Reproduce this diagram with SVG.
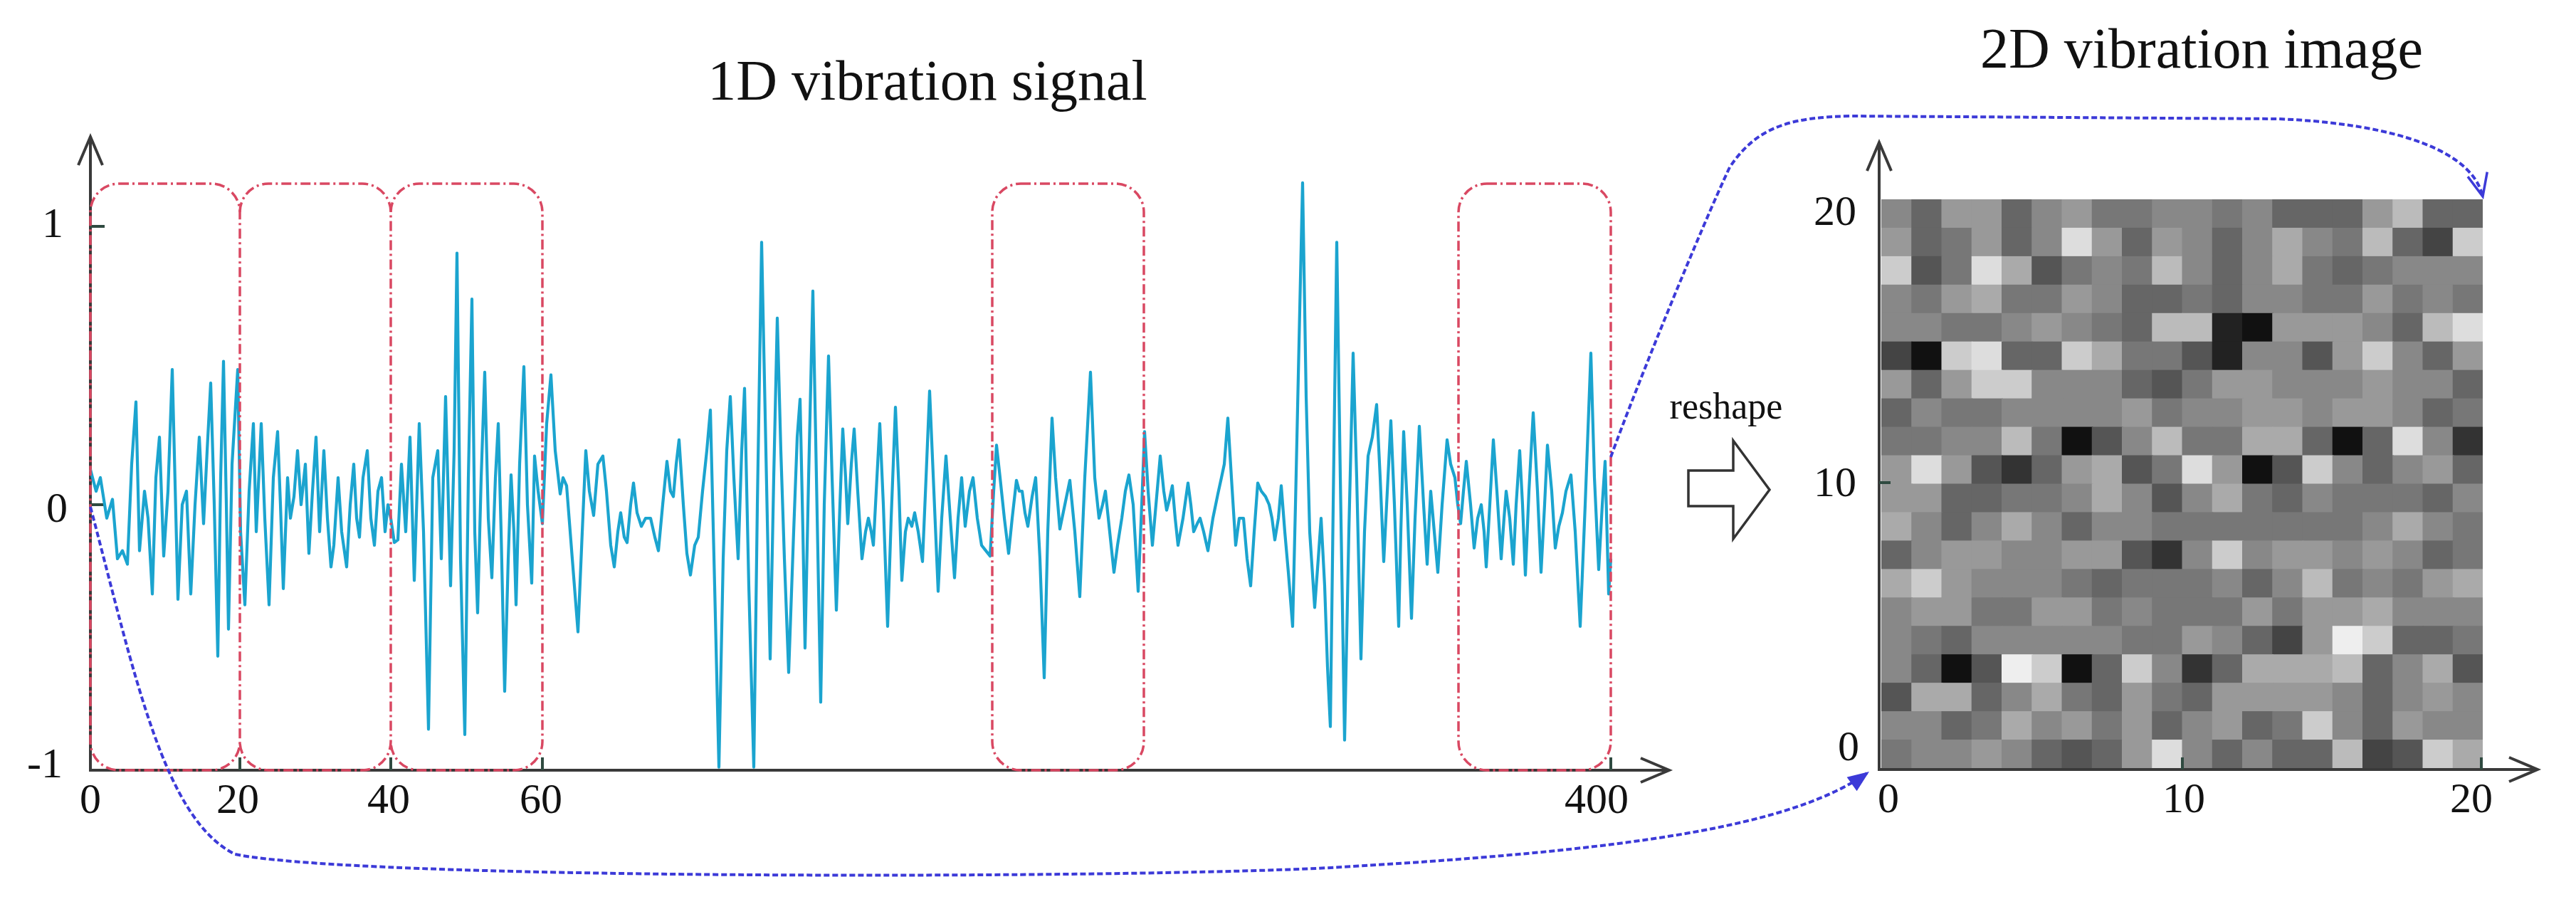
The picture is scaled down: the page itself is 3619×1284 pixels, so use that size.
<svg xmlns="http://www.w3.org/2000/svg" width="3619" height="1284" viewBox="0 0 3619 1284">
<style>
text{font-family:"Liberation Serif","Times New Roman",serif;fill:#111}
.title{font-size:80px}
.lbl{font-size:60px;text-anchor:middle}
.axis{stroke:#3a3a3a;stroke-width:4;fill:none}
.tick{stroke:#2f4a40;stroke-width:4}
.win{fill:none;stroke:#d94862;stroke-width:3.5;stroke-dasharray:14 5 3 5}
.link{fill:none;stroke:#3c3ad8;stroke-width:4;stroke-dasharray:8 4}
.wave{fill:none;stroke:#1ba4cf;stroke-width:4.2;stroke-linejoin:round}
</style>
<defs>
<marker id="axArrow" markerUnits="userSpaceOnUse" viewBox="-44 -22 48 44" markerWidth="48" markerHeight="44" refX="0" refY="0" orient="auto" overflow="visible">
<path d="M-40,-17 L0,0 L-40,17" fill="none" stroke="#3a3a3a" stroke-width="4"/>
</marker>
<marker id="blueOpen" markerUnits="userSpaceOnUse" viewBox="-36 -18 40 36" markerWidth="40" markerHeight="36" refX="0" refY="0" orient="auto" overflow="visible">
<path d="M-32,-14 L0,0 L-32,14" fill="none" stroke="#3c3ad8" stroke-width="3.5"/>
</marker>
<marker id="blueFill" markerUnits="userSpaceOnUse" viewBox="-36 -18 40 36" markerWidth="40" markerHeight="36" refX="0" refY="0" orient="auto" overflow="visible">
<path d="M-30,-12 L0,0 L-30,12 Z" fill="#3c3ad8" stroke="none"/>
</marker>
</defs>
<rect width="3619" height="1284" fill="#fff"/>

<g id="title-1d"><text class="title" x="1303" y="140" text-anchor="middle">1D vibration signal</text></g>
<g id="title-2d"><text class="title" x="2782" y="95">2D vibration image</text></g>

<g id="signal-plot">
<line class="axis" x1="127" y1="1082" x2="127" y2="192" marker-end="url(#axArrow)"/>
<line class="axis" x1="125" y1="1082" x2="2345" y2="1082" marker-end="url(#axArrow)"/>
<line class="tick" x1="127" y1="318" x2="147" y2="318"/>
<line class="tick" x1="127" y1="709" x2="147" y2="709"/>
<line class="tick" x1="337" y1="1082" x2="337" y2="1064"/>
<line class="tick" x1="549" y1="1082" x2="549" y2="1064"/>
<line class="tick" x1="762" y1="1082" x2="762" y2="1064"/>
<line class="tick" x1="2263" y1="1082" x2="2263" y2="1064"/>
<text class="lbl" x="74" y="333">1</text>
<text class="lbl" x="80" y="733">0</text>
<text class="lbl" x="63" y="1092">-1</text>
<text class="lbl" x="127" y="1142">0</text>
<text class="lbl" x="334" y="1142">20</text>
<text class="lbl" x="546" y="1142">40</text>
<text class="lbl" x="760" y="1142">60</text>
<text class="lbl" x="2243" y="1142">400</text>
<polyline class="wave" vector-effect="non-scaling-stroke" transform="matrix(1,0,0,-3.8,0,709)" points="127,13 135,5 141,10 150,-5 158,2 165,-20 172,-17 179,-22 185,15 191,38 196,-17 203,5 208,-5 214,-33 219,10 224,25 230,-19 236,5 242,50 250,-35 256,0 262,5 268,-33 274,0 280,25 286,-7 291,20 296,45 301,0 306,-56 310,10 314,53 318,0 321,-46 326,15 334,50 338,-10 344,-37 350,5 356,30 360,-10 367,30 372,-5 378,-37 384,10 390,27 394,0 398,-31 404,10 408,-5 413,3 418,20 423,0 429,15 434,-18 439,5 444,25 449,-10 455,20 460,-5 465,-23 469,-15 475,10 480,-10 487,-23 492,0 497,15 501,-5 505,-12 510,10 516,20 521,-5 526,-15 531,5 536,10 541,-10 545,0 549,-5 554,-14 559,-13 564,15 570,-10 576,25 582,-28 589,30 595,-10 602,-83 608,10 615,20 620,-20 626,40 633,-30 638,20 642,93 647,-20 653,-85 658,10 663,76 667,-10 671,-40 676,10 681,49 686,-5 691,-27 696,10 700,30 704,-10 709,-69 714,-20 718,11 722,-10 725,-37 730,15 736,51 741,0 747,-29 751,18 756,5 762,-7 768,30 774,48 780,20 787,4 791,10 796,7 804,-20 812,-47 818,-10 823,20 828,5 834,-4 840,15 847,18 852,5 858,-15 863,-23 868,-10 872,-3 877,-12 881,-14 886,0 890,8 895,-3 901,-8 907,-5 914,-5 920,-12 925,-17 931,0 937,16 942,5 946,3 950,15 954,24 960,0 965,-18 970,-26 976,-15 981,-12 987,5 993,20 998,35 1004,-30 1010,-97 1016,-20 1021,20 1026,40 1031,10 1037,-20 1042,20 1046,43 1052,-30 1059,-97 1064,0 1070,97 1076,20 1082,-57 1087,10 1092,69 1097,20 1102,-20 1108,-62 1115,-10 1120,25 1124,39 1128,-10 1131,-53 1136,10 1142,79 1147,10 1153,-73 1158,0 1164,55 1169,10 1175,-39 1180,0 1184,28 1188,10 1191,-7 1196,15 1200,28 1205,5 1211,-20 1216,-10 1220,-5 1224,-10 1227,-15 1231,5 1236,30 1241,0 1247,-45 1252,-5 1258,36 1263,5 1267,-28 1272,-10 1276,-5 1281,-8 1285,-3 1290,-10 1296,-21 1301,10 1306,42 1312,5 1318,-32 1323,-5 1329,18 1335,-5 1341,-27 1346,-5 1351,10 1356,-8 1362,5 1367,10 1373,-5 1379,-15 1385,-17 1391,-19 1396,5 1400,22 1405,10 1411,-5 1417,-18 1422,-5 1428,9 1432,5 1436,5 1440,-3 1444,-8 1450,3 1455,10 1461,-20 1467,-64 1472,-10 1478,32 1483,10 1489,-9 1496,0 1503,9 1510,-10 1517,-34 1524,10 1532,49 1538,10 1544,-5 1549,0 1553,5 1559,-10 1565,-25 1570,-15 1576,-5 1581,5 1586,11 1592,0 1599,-32 1604,0 1608,27 1613,5 1619,-15 1624,0 1630,18 1635,5 1639,-2 1643,2 1647,7 1651,-5 1655,-15 1662,-5 1669,8 1673,0 1677,-10 1682,-7 1686,-5 1691,-10 1697,-17 1704,-5 1711,4 1716,10 1720,15 1725,32 1730,10 1736,-15 1741,-5 1747,-5 1752,-20 1757,-30 1762,-10 1767,8 1772,5 1778,3 1783,0 1787,-5 1791,-13 1796,-5 1800,7 1805,-10 1810,-25 1816,-45 1820,0 1825,60 1830,119 1835,40 1840,-10 1847,-38 1852,-20 1856,-5 1861,-30 1865,-60 1869,-82 1873,0 1878,97 1883,10 1889,-87 1895,-10 1901,56 1906,10 1912,-57 1917,-10 1922,18 1928,25 1934,37 1939,10 1944,-21 1949,5 1954,31 1959,0 1965,-45 1968,-10 1972,27 1977,0 1983,-42 1988,-5 1994,29 2000,0 2005,-22 2008,-5 2010,5 2015,-10 2020,-25 2026,0 2033,24 2038,15 2044,10 2048,0 2052,-7 2056,5 2060,16 2066,0 2071,-16 2076,-5 2081,0 2085,-10 2088,-23 2093,0 2098,24 2103,5 2109,-20 2113,-5 2116,5 2121,-5 2126,-22 2130,0 2135,20 2139,0 2143,-26 2148,5 2154,34 2160,5 2165,-25 2170,0 2174,22 2180,5 2185,-16 2190,-8 2195,-3 2200,5 2207,11 2213,-10 2220,-45 2227,0 2235,56 2240,10 2246,-24 2251,0 2255,16 2260,-33 2263,-20"/>
<g id="windows">
<rect class="win" x="127" y="258" width="210" height="824" rx="40"/>
<path class="win" d="M337,298 A40,40 0 0 1 377,258 L509,258 A40,40 0 0 1 549,298 L549,1042 A40,40 0 0 1 509,1082 L377,1082 A40,40 0 0 1 337,1042"/>
<path class="win" d="M549,298 A40,40 0 0 1 589,258 L722,258 A40,40 0 0 1 762,298 L762,1042 A40,40 0 0 1 722,1082 L589,1082 A40,40 0 0 1 549,1042"/>
<rect class="win" x="1394" y="258" width="213" height="824" rx="40"/>
<rect class="win" x="2049" y="258" width="214" height="824" rx="40"/>
</g>
</g>

<g id="reshape">
<text x="2425" y="588" text-anchor="middle" style="font-size:52px">reshape</text>
<polygon points="2372,661 2435,661 2435,619 2486,688 2435,757 2435,711 2372,711" fill="#fff" stroke="#333" stroke-width="3.5" stroke-linejoin="miter"/>
</g>

<g id="image-plot">
<g id="pixels" transform="translate(2643,280) scale(42.25,39.95)">
<rect x="0" y="0" width="1.04" height="1.04" fill="#888"/><rect x="1" y="0" width="1.04" height="1.04" fill="#666"/><rect x="2" y="0" width="1.04" height="1.04" fill="#999"/><rect x="3" y="0" width="1.04" height="1.04" fill="#999"/><rect x="4" y="0" width="1.04" height="1.04" fill="#666"/><rect x="5" y="0" width="1.04" height="1.04" fill="#888"/><rect x="6" y="0" width="1.04" height="1.04" fill="#999"/><rect x="7" y="0" width="1.04" height="1.04" fill="#777"/><rect x="8" y="0" width="1.04" height="1.04" fill="#777"/><rect x="9" y="0" width="1.04" height="1.04" fill="#888"/><rect x="10" y="0" width="1.04" height="1.04" fill="#888"/><rect x="11" y="0" width="1.04" height="1.04" fill="#777"/><rect x="12" y="0" width="1.04" height="1.04" fill="#888"/><rect x="13" y="0" width="1.04" height="1.04" fill="#666"/><rect x="14" y="0" width="1.04" height="1.04" fill="#666"/><rect x="15" y="0" width="1.04" height="1.04" fill="#666"/><rect x="16" y="0" width="1.04" height="1.04" fill="#999"/><rect x="17" y="0" width="1.04" height="1.04" fill="#bbb"/><rect x="18" y="0" width="1.04" height="1.04" fill="#666"/><rect x="19" y="0" width="1" height="1.04" fill="#666"/>
<rect x="0" y="1" width="1.04" height="1.04" fill="#999"/><rect x="1" y="1" width="1.04" height="1.04" fill="#666"/><rect x="2" y="1" width="1.04" height="1.04" fill="#777"/><rect x="3" y="1" width="1.04" height="1.04" fill="#999"/><rect x="4" y="1" width="1.04" height="1.04" fill="#666"/><rect x="5" y="1" width="1.04" height="1.04" fill="#888"/><rect x="6" y="1" width="1.04" height="1.04" fill="#ddd"/><rect x="7" y="1" width="1.04" height="1.04" fill="#999"/><rect x="8" y="1" width="1.04" height="1.04" fill="#666"/><rect x="9" y="1" width="1.04" height="1.04" fill="#999"/><rect x="10" y="1" width="1.04" height="1.04" fill="#888"/><rect x="11" y="1" width="1.04" height="1.04" fill="#666"/><rect x="12" y="1" width="1.04" height="1.04" fill="#888"/><rect x="13" y="1" width="1.04" height="1.04" fill="#aaa"/><rect x="14" y="1" width="1.04" height="1.04" fill="#888"/><rect x="15" y="1" width="1.04" height="1.04" fill="#777"/><rect x="16" y="1" width="1.04" height="1.04" fill="#bbb"/><rect x="17" y="1" width="1.04" height="1.04" fill="#666"/><rect x="18" y="1" width="1.04" height="1.04" fill="#444"/><rect x="19" y="1" width="1" height="1.04" fill="#ccc"/>
<rect x="0" y="2" width="1.04" height="1.04" fill="#ccc"/><rect x="1" y="2" width="1.04" height="1.04" fill="#555"/><rect x="2" y="2" width="1.04" height="1.04" fill="#777"/><rect x="3" y="2" width="1.04" height="1.04" fill="#ddd"/><rect x="4" y="2" width="1.04" height="1.04" fill="#aaa"/><rect x="5" y="2" width="1.04" height="1.04" fill="#555"/><rect x="6" y="2" width="1.04" height="1.04" fill="#777"/><rect x="7" y="2" width="1.04" height="1.04" fill="#888"/><rect x="8" y="2" width="1.04" height="1.04" fill="#777"/><rect x="9" y="2" width="1.04" height="1.04" fill="#bbb"/><rect x="10" y="2" width="1.04" height="1.04" fill="#888"/><rect x="11" y="2" width="1.04" height="1.04" fill="#666"/><rect x="12" y="2" width="1.04" height="1.04" fill="#888"/><rect x="13" y="2" width="1.04" height="1.04" fill="#aaa"/><rect x="14" y="2" width="1.04" height="1.04" fill="#777"/><rect x="15" y="2" width="1.04" height="1.04" fill="#666"/><rect x="16" y="2" width="1.04" height="1.04" fill="#777"/><rect x="17" y="2" width="1.04" height="1.04" fill="#888"/><rect x="18" y="2" width="1.04" height="1.04" fill="#888"/><rect x="19" y="2" width="1" height="1.04" fill="#888"/>
<rect x="0" y="3" width="1.04" height="1.04" fill="#888"/><rect x="1" y="3" width="1.04" height="1.04" fill="#777"/><rect x="2" y="3" width="1.04" height="1.04" fill="#999"/><rect x="3" y="3" width="1.04" height="1.04" fill="#aaa"/><rect x="4" y="3" width="1.04" height="1.04" fill="#777"/><rect x="5" y="3" width="1.04" height="1.04" fill="#777"/><rect x="6" y="3" width="1.04" height="1.04" fill="#999"/><rect x="7" y="3" width="1.04" height="1.04" fill="#888"/><rect x="8" y="3" width="1.04" height="1.04" fill="#666"/><rect x="9" y="3" width="1.04" height="1.04" fill="#666"/><rect x="10" y="3" width="1.04" height="1.04" fill="#777"/><rect x="11" y="3" width="1.04" height="1.04" fill="#666"/><rect x="12" y="3" width="1.04" height="1.04" fill="#888"/><rect x="13" y="3" width="1.04" height="1.04" fill="#888"/><rect x="14" y="3" width="1.04" height="1.04" fill="#777"/><rect x="15" y="3" width="1.04" height="1.04" fill="#777"/><rect x="16" y="3" width="1.04" height="1.04" fill="#999"/><rect x="17" y="3" width="1.04" height="1.04" fill="#777"/><rect x="18" y="3" width="1.04" height="1.04" fill="#888"/><rect x="19" y="3" width="1" height="1.04" fill="#777"/>
<rect x="0" y="4" width="1.04" height="1.04" fill="#888"/><rect x="1" y="4" width="1.04" height="1.04" fill="#888"/><rect x="2" y="4" width="1.04" height="1.04" fill="#777"/><rect x="3" y="4" width="1.04" height="1.04" fill="#777"/><rect x="4" y="4" width="1.04" height="1.04" fill="#888"/><rect x="5" y="4" width="1.04" height="1.04" fill="#999"/><rect x="6" y="4" width="1.04" height="1.04" fill="#888"/><rect x="7" y="4" width="1.04" height="1.04" fill="#777"/><rect x="8" y="4" width="1.04" height="1.04" fill="#666"/><rect x="9" y="4" width="1.04" height="1.04" fill="#bbb"/><rect x="10" y="4" width="1.04" height="1.04" fill="#bbb"/><rect x="11" y="4" width="1.04" height="1.04" fill="#222"/><rect x="12" y="4" width="1.04" height="1.04" fill="#111"/><rect x="13" y="4" width="1.04" height="1.04" fill="#999"/><rect x="14" y="4" width="1.04" height="1.04" fill="#999"/><rect x="15" y="4" width="1.04" height="1.04" fill="#999"/><rect x="16" y="4" width="1.04" height="1.04" fill="#888"/><rect x="17" y="4" width="1.04" height="1.04" fill="#666"/><rect x="18" y="4" width="1.04" height="1.04" fill="#bbb"/><rect x="19" y="4" width="1" height="1.04" fill="#ddd"/>
<rect x="0" y="5" width="1.04" height="1.04" fill="#444"/><rect x="1" y="5" width="1.04" height="1.04" fill="#111"/><rect x="2" y="5" width="1.04" height="1.04" fill="#ccc"/><rect x="3" y="5" width="1.04" height="1.04" fill="#ddd"/><rect x="4" y="5" width="1.04" height="1.04" fill="#666"/><rect x="5" y="5" width="1.04" height="1.04" fill="#666"/><rect x="6" y="5" width="1.04" height="1.04" fill="#ccc"/><rect x="7" y="5" width="1.04" height="1.04" fill="#aaa"/><rect x="8" y="5" width="1.04" height="1.04" fill="#777"/><rect x="9" y="5" width="1.04" height="1.04" fill="#777"/><rect x="10" y="5" width="1.04" height="1.04" fill="#555"/><rect x="11" y="5" width="1.04" height="1.04" fill="#222"/><rect x="12" y="5" width="1.04" height="1.04" fill="#888"/><rect x="13" y="5" width="1.04" height="1.04" fill="#888"/><rect x="14" y="5" width="1.04" height="1.04" fill="#555"/><rect x="15" y="5" width="1.04" height="1.04" fill="#999"/><rect x="16" y="5" width="1.04" height="1.04" fill="#ccc"/><rect x="17" y="5" width="1.04" height="1.04" fill="#888"/><rect x="18" y="5" width="1.04" height="1.04" fill="#666"/><rect x="19" y="5" width="1" height="1.04" fill="#999"/>
<rect x="0" y="6" width="1.04" height="1.04" fill="#999"/><rect x="1" y="6" width="1.04" height="1.04" fill="#666"/><rect x="2" y="6" width="1.04" height="1.04" fill="#999"/><rect x="3" y="6" width="1.04" height="1.04" fill="#ccc"/><rect x="4" y="6" width="1.04" height="1.04" fill="#ccc"/><rect x="5" y="6" width="1.04" height="1.04" fill="#888"/><rect x="6" y="6" width="1.04" height="1.04" fill="#888"/><rect x="7" y="6" width="1.04" height="1.04" fill="#888"/><rect x="8" y="6" width="1.04" height="1.04" fill="#666"/><rect x="9" y="6" width="1.04" height="1.04" fill="#555"/><rect x="10" y="6" width="1.04" height="1.04" fill="#777"/><rect x="11" y="6" width="1.04" height="1.04" fill="#999"/><rect x="12" y="6" width="1.04" height="1.04" fill="#999"/><rect x="13" y="6" width="1.04" height="1.04" fill="#888"/><rect x="14" y="6" width="1.04" height="1.04" fill="#888"/><rect x="15" y="6" width="1.04" height="1.04" fill="#888"/><rect x="16" y="6" width="1.04" height="1.04" fill="#999"/><rect x="17" y="6" width="1.04" height="1.04" fill="#888"/><rect x="18" y="6" width="1.04" height="1.04" fill="#888"/><rect x="19" y="6" width="1" height="1.04" fill="#666"/>
<rect x="0" y="7" width="1.04" height="1.04" fill="#666"/><rect x="1" y="7" width="1.04" height="1.04" fill="#888"/><rect x="2" y="7" width="1.04" height="1.04" fill="#777"/><rect x="3" y="7" width="1.04" height="1.04" fill="#777"/><rect x="4" y="7" width="1.04" height="1.04" fill="#888"/><rect x="5" y="7" width="1.04" height="1.04" fill="#888"/><rect x="6" y="7" width="1.04" height="1.04" fill="#888"/><rect x="7" y="7" width="1.04" height="1.04" fill="#888"/><rect x="8" y="7" width="1.04" height="1.04" fill="#999"/><rect x="9" y="7" width="1.04" height="1.04" fill="#777"/><rect x="10" y="7" width="1.04" height="1.04" fill="#888"/><rect x="11" y="7" width="1.04" height="1.04" fill="#888"/><rect x="12" y="7" width="1.04" height="1.04" fill="#999"/><rect x="13" y="7" width="1.04" height="1.04" fill="#999"/><rect x="14" y="7" width="1.04" height="1.04" fill="#888"/><rect x="15" y="7" width="1.04" height="1.04" fill="#999"/><rect x="16" y="7" width="1.04" height="1.04" fill="#999"/><rect x="17" y="7" width="1.04" height="1.04" fill="#888"/><rect x="18" y="7" width="1.04" height="1.04" fill="#666"/><rect x="19" y="7" width="1" height="1.04" fill="#777"/>
<rect x="0" y="8" width="1.04" height="1.04" fill="#777"/><rect x="1" y="8" width="1.04" height="1.04" fill="#777"/><rect x="2" y="8" width="1.04" height="1.04" fill="#888"/><rect x="3" y="8" width="1.04" height="1.04" fill="#888"/><rect x="4" y="8" width="1.04" height="1.04" fill="#bbb"/><rect x="5" y="8" width="1.04" height="1.04" fill="#777"/><rect x="6" y="8" width="1.04" height="1.04" fill="#111"/><rect x="7" y="8" width="1.04" height="1.04" fill="#555"/><rect x="8" y="8" width="1.04" height="1.04" fill="#888"/><rect x="9" y="8" width="1.04" height="1.04" fill="#bbb"/><rect x="10" y="8" width="1.04" height="1.04" fill="#777"/><rect x="11" y="8" width="1.04" height="1.04" fill="#777"/><rect x="12" y="8" width="1.04" height="1.04" fill="#aaa"/><rect x="13" y="8" width="1.04" height="1.04" fill="#aaa"/><rect x="14" y="8" width="1.04" height="1.04" fill="#666"/><rect x="15" y="8" width="1.04" height="1.04" fill="#111"/><rect x="16" y="8" width="1.04" height="1.04" fill="#666"/><rect x="17" y="8" width="1.04" height="1.04" fill="#ddd"/><rect x="18" y="8" width="1.04" height="1.04" fill="#888"/><rect x="19" y="8" width="1" height="1.04" fill="#333"/>
<rect x="0" y="9" width="1.04" height="1.04" fill="#999"/><rect x="1" y="9" width="1.04" height="1.04" fill="#ddd"/><rect x="2" y="9" width="1.04" height="1.04" fill="#999"/><rect x="3" y="9" width="1.04" height="1.04" fill="#555"/><rect x="4" y="9" width="1.04" height="1.04" fill="#333"/><rect x="5" y="9" width="1.04" height="1.04" fill="#666"/><rect x="6" y="9" width="1.04" height="1.04" fill="#999"/><rect x="7" y="9" width="1.04" height="1.04" fill="#aaa"/><rect x="8" y="9" width="1.04" height="1.04" fill="#555"/><rect x="9" y="9" width="1.04" height="1.04" fill="#777"/><rect x="10" y="9" width="1.04" height="1.04" fill="#ddd"/><rect x="11" y="9" width="1.04" height="1.04" fill="#999"/><rect x="12" y="9" width="1.04" height="1.04" fill="#111"/><rect x="13" y="9" width="1.04" height="1.04" fill="#555"/><rect x="14" y="9" width="1.04" height="1.04" fill="#ccc"/><rect x="15" y="9" width="1.04" height="1.04" fill="#888"/><rect x="16" y="9" width="1.04" height="1.04" fill="#666"/><rect x="17" y="9" width="1.04" height="1.04" fill="#888"/><rect x="18" y="9" width="1.04" height="1.04" fill="#999"/><rect x="19" y="9" width="1" height="1.04" fill="#666"/>
<rect x="0" y="10" width="1.04" height="1.04" fill="#999"/><rect x="1" y="10" width="1.04" height="1.04" fill="#999"/><rect x="2" y="10" width="1.04" height="1.04" fill="#666"/><rect x="3" y="10" width="1.04" height="1.04" fill="#666"/><rect x="4" y="10" width="1.04" height="1.04" fill="#777"/><rect x="5" y="10" width="1.04" height="1.04" fill="#777"/><rect x="6" y="10" width="1.04" height="1.04" fill="#888"/><rect x="7" y="10" width="1.04" height="1.04" fill="#aaa"/><rect x="8" y="10" width="1.04" height="1.04" fill="#888"/><rect x="9" y="10" width="1.04" height="1.04" fill="#555"/><rect x="10" y="10" width="1.04" height="1.04" fill="#888"/><rect x="11" y="10" width="1.04" height="1.04" fill="#aaa"/><rect x="12" y="10" width="1.04" height="1.04" fill="#777"/><rect x="13" y="10" width="1.04" height="1.04" fill="#666"/><rect x="14" y="10" width="1.04" height="1.04" fill="#888"/><rect x="15" y="10" width="1.04" height="1.04" fill="#777"/><rect x="16" y="10" width="1.04" height="1.04" fill="#777"/><rect x="17" y="10" width="1.04" height="1.04" fill="#777"/><rect x="18" y="10" width="1.04" height="1.04" fill="#666"/><rect x="19" y="10" width="1" height="1.04" fill="#888"/>
<rect x="0" y="11" width="1.04" height="1.04" fill="#aaa"/><rect x="1" y="11" width="1.04" height="1.04" fill="#888"/><rect x="2" y="11" width="1.04" height="1.04" fill="#666"/><rect x="3" y="11" width="1.04" height="1.04" fill="#888"/><rect x="4" y="11" width="1.04" height="1.04" fill="#aaa"/><rect x="5" y="11" width="1.04" height="1.04" fill="#888"/><rect x="6" y="11" width="1.04" height="1.04" fill="#666"/><rect x="7" y="11" width="1.04" height="1.04" fill="#888"/><rect x="8" y="11" width="1.04" height="1.04" fill="#888"/><rect x="9" y="11" width="1.04" height="1.04" fill="#777"/><rect x="10" y="11" width="1.04" height="1.04" fill="#777"/><rect x="11" y="11" width="1.04" height="1.04" fill="#777"/><rect x="12" y="11" width="1.04" height="1.04" fill="#777"/><rect x="13" y="11" width="1.04" height="1.04" fill="#777"/><rect x="14" y="11" width="1.04" height="1.04" fill="#777"/><rect x="15" y="11" width="1.04" height="1.04" fill="#777"/><rect x="16" y="11" width="1.04" height="1.04" fill="#888"/><rect x="17" y="11" width="1.04" height="1.04" fill="#aaa"/><rect x="18" y="11" width="1.04" height="1.04" fill="#888"/><rect x="19" y="11" width="1" height="1.04" fill="#777"/>
<rect x="0" y="12" width="1.04" height="1.04" fill="#666"/><rect x="1" y="12" width="1.04" height="1.04" fill="#888"/><rect x="2" y="12" width="1.04" height="1.04" fill="#999"/><rect x="3" y="12" width="1.04" height="1.04" fill="#999"/><rect x="4" y="12" width="1.04" height="1.04" fill="#888"/><rect x="5" y="12" width="1.04" height="1.04" fill="#888"/><rect x="6" y="12" width="1.04" height="1.04" fill="#999"/><rect x="7" y="12" width="1.04" height="1.04" fill="#999"/><rect x="8" y="12" width="1.04" height="1.04" fill="#555"/><rect x="9" y="12" width="1.04" height="1.04" fill="#333"/><rect x="10" y="12" width="1.04" height="1.04" fill="#888"/><rect x="11" y="12" width="1.04" height="1.04" fill="#ccc"/><rect x="12" y="12" width="1.04" height="1.04" fill="#888"/><rect x="13" y="12" width="1.04" height="1.04" fill="#999"/><rect x="14" y="12" width="1.04" height="1.04" fill="#999"/><rect x="15" y="12" width="1.04" height="1.04" fill="#888"/><rect x="16" y="12" width="1.04" height="1.04" fill="#999"/><rect x="17" y="12" width="1.04" height="1.04" fill="#888"/><rect x="18" y="12" width="1.04" height="1.04" fill="#666"/><rect x="19" y="12" width="1" height="1.04" fill="#777"/>
<rect x="0" y="13" width="1.04" height="1.04" fill="#aaa"/><rect x="1" y="13" width="1.04" height="1.04" fill="#ccc"/><rect x="2" y="13" width="1.04" height="1.04" fill="#999"/><rect x="3" y="13" width="1.04" height="1.04" fill="#888"/><rect x="4" y="13" width="1.04" height="1.04" fill="#888"/><rect x="5" y="13" width="1.04" height="1.04" fill="#888"/><rect x="6" y="13" width="1.04" height="1.04" fill="#777"/><rect x="7" y="13" width="1.04" height="1.04" fill="#666"/><rect x="8" y="13" width="1.04" height="1.04" fill="#777"/><rect x="9" y="13" width="1.04" height="1.04" fill="#777"/><rect x="10" y="13" width="1.04" height="1.04" fill="#777"/><rect x="11" y="13" width="1.04" height="1.04" fill="#888"/><rect x="12" y="13" width="1.04" height="1.04" fill="#666"/><rect x="13" y="13" width="1.04" height="1.04" fill="#888"/><rect x="14" y="13" width="1.04" height="1.04" fill="#bbb"/><rect x="15" y="13" width="1.04" height="1.04" fill="#777"/><rect x="16" y="13" width="1.04" height="1.04" fill="#888"/><rect x="17" y="13" width="1.04" height="1.04" fill="#777"/><rect x="18" y="13" width="1.04" height="1.04" fill="#999"/><rect x="19" y="13" width="1" height="1.04" fill="#aaa"/>
<rect x="0" y="14" width="1.04" height="1.04" fill="#888"/><rect x="1" y="14" width="1.04" height="1.04" fill="#999"/><rect x="2" y="14" width="1.04" height="1.04" fill="#999"/><rect x="3" y="14" width="1.04" height="1.04" fill="#777"/><rect x="4" y="14" width="1.04" height="1.04" fill="#777"/><rect x="5" y="14" width="1.04" height="1.04" fill="#999"/><rect x="6" y="14" width="1.04" height="1.04" fill="#999"/><rect x="7" y="14" width="1.04" height="1.04" fill="#777"/><rect x="8" y="14" width="1.04" height="1.04" fill="#888"/><rect x="9" y="14" width="1.04" height="1.04" fill="#777"/><rect x="10" y="14" width="1.04" height="1.04" fill="#777"/><rect x="11" y="14" width="1.04" height="1.04" fill="#777"/><rect x="12" y="14" width="1.04" height="1.04" fill="#999"/><rect x="13" y="14" width="1.04" height="1.04" fill="#777"/><rect x="14" y="14" width="1.04" height="1.04" fill="#999"/><rect x="15" y="14" width="1.04" height="1.04" fill="#999"/><rect x="16" y="14" width="1.04" height="1.04" fill="#aaa"/><rect x="17" y="14" width="1.04" height="1.04" fill="#888"/><rect x="18" y="14" width="1.04" height="1.04" fill="#888"/><rect x="19" y="14" width="1" height="1.04" fill="#888"/>
<rect x="0" y="15" width="1.04" height="1.04" fill="#888"/><rect x="1" y="15" width="1.04" height="1.04" fill="#777"/><rect x="2" y="15" width="1.04" height="1.04" fill="#666"/><rect x="3" y="15" width="1.04" height="1.04" fill="#888"/><rect x="4" y="15" width="1.04" height="1.04" fill="#888"/><rect x="5" y="15" width="1.04" height="1.04" fill="#888"/><rect x="6" y="15" width="1.04" height="1.04" fill="#888"/><rect x="7" y="15" width="1.04" height="1.04" fill="#888"/><rect x="8" y="15" width="1.04" height="1.04" fill="#777"/><rect x="9" y="15" width="1.04" height="1.04" fill="#777"/><rect x="10" y="15" width="1.04" height="1.04" fill="#999"/><rect x="11" y="15" width="1.04" height="1.04" fill="#888"/><rect x="12" y="15" width="1.04" height="1.04" fill="#666"/><rect x="13" y="15" width="1.04" height="1.04" fill="#444"/><rect x="14" y="15" width="1.04" height="1.04" fill="#999"/><rect x="15" y="15" width="1.04" height="1.04" fill="#eee"/><rect x="16" y="15" width="1.04" height="1.04" fill="#ccc"/><rect x="17" y="15" width="1.04" height="1.04" fill="#666"/><rect x="18" y="15" width="1.04" height="1.04" fill="#666"/><rect x="19" y="15" width="1" height="1.04" fill="#777"/>
<rect x="0" y="16" width="1.04" height="1.04" fill="#888"/><rect x="1" y="16" width="1.04" height="1.04" fill="#666"/><rect x="2" y="16" width="1.04" height="1.04" fill="#111"/><rect x="3" y="16" width="1.04" height="1.04" fill="#555"/><rect x="4" y="16" width="1.04" height="1.04" fill="#eee"/><rect x="5" y="16" width="1.04" height="1.04" fill="#ccc"/><rect x="6" y="16" width="1.04" height="1.04" fill="#111"/><rect x="7" y="16" width="1.04" height="1.04" fill="#666"/><rect x="8" y="16" width="1.04" height="1.04" fill="#ccc"/><rect x="9" y="16" width="1.04" height="1.04" fill="#888"/><rect x="10" y="16" width="1.04" height="1.04" fill="#333"/><rect x="11" y="16" width="1.04" height="1.04" fill="#666"/><rect x="12" y="16" width="1.04" height="1.04" fill="#aaa"/><rect x="13" y="16" width="1.04" height="1.04" fill="#aaa"/><rect x="14" y="16" width="1.04" height="1.04" fill="#aaa"/><rect x="15" y="16" width="1.04" height="1.04" fill="#bbb"/><rect x="16" y="16" width="1.04" height="1.04" fill="#666"/><rect x="17" y="16" width="1.04" height="1.04" fill="#888"/><rect x="18" y="16" width="1.04" height="1.04" fill="#aaa"/><rect x="19" y="16" width="1" height="1.04" fill="#555"/>
<rect x="0" y="17" width="1.04" height="1.04" fill="#555"/><rect x="1" y="17" width="1.04" height="1.04" fill="#aaa"/><rect x="2" y="17" width="1.04" height="1.04" fill="#aaa"/><rect x="3" y="17" width="1.04" height="1.04" fill="#666"/><rect x="4" y="17" width="1.04" height="1.04" fill="#888"/><rect x="5" y="17" width="1.04" height="1.04" fill="#aaa"/><rect x="6" y="17" width="1.04" height="1.04" fill="#777"/><rect x="7" y="17" width="1.04" height="1.04" fill="#666"/><rect x="8" y="17" width="1.04" height="1.04" fill="#999"/><rect x="9" y="17" width="1.04" height="1.04" fill="#777"/><rect x="10" y="17" width="1.04" height="1.04" fill="#666"/><rect x="11" y="17" width="1.04" height="1.04" fill="#999"/><rect x="12" y="17" width="1.04" height="1.04" fill="#999"/><rect x="13" y="17" width="1.04" height="1.04" fill="#999"/><rect x="14" y="17" width="1.04" height="1.04" fill="#999"/><rect x="15" y="17" width="1.04" height="1.04" fill="#888"/><rect x="16" y="17" width="1.04" height="1.04" fill="#666"/><rect x="17" y="17" width="1.04" height="1.04" fill="#888"/><rect x="18" y="17" width="1.04" height="1.04" fill="#999"/><rect x="19" y="17" width="1" height="1.04" fill="#888"/>
<rect x="0" y="18" width="1.04" height="1.04" fill="#888"/><rect x="1" y="18" width="1.04" height="1.04" fill="#888"/><rect x="2" y="18" width="1.04" height="1.04" fill="#666"/><rect x="3" y="18" width="1.04" height="1.04" fill="#777"/><rect x="4" y="18" width="1.04" height="1.04" fill="#aaa"/><rect x="5" y="18" width="1.04" height="1.04" fill="#888"/><rect x="6" y="18" width="1.04" height="1.04" fill="#999"/><rect x="7" y="18" width="1.04" height="1.04" fill="#777"/><rect x="8" y="18" width="1.04" height="1.04" fill="#999"/><rect x="9" y="18" width="1.04" height="1.04" fill="#666"/><rect x="10" y="18" width="1.04" height="1.04" fill="#888"/><rect x="11" y="18" width="1.04" height="1.04" fill="#999"/><rect x="12" y="18" width="1.04" height="1.04" fill="#666"/><rect x="13" y="18" width="1.04" height="1.04" fill="#777"/><rect x="14" y="18" width="1.04" height="1.04" fill="#ccc"/><rect x="15" y="18" width="1.04" height="1.04" fill="#888"/><rect x="16" y="18" width="1.04" height="1.04" fill="#666"/><rect x="17" y="18" width="1.04" height="1.04" fill="#999"/><rect x="18" y="18" width="1.04" height="1.04" fill="#888"/><rect x="19" y="18" width="1" height="1.04" fill="#888"/>
<rect x="0" y="19" width="1.04" height="1" fill="#777"/><rect x="1" y="19" width="1.04" height="1" fill="#888"/><rect x="2" y="19" width="1.04" height="1" fill="#888"/><rect x="3" y="19" width="1.04" height="1" fill="#999"/><rect x="4" y="19" width="1.04" height="1" fill="#888"/><rect x="5" y="19" width="1.04" height="1" fill="#666"/><rect x="6" y="19" width="1.04" height="1" fill="#555"/><rect x="7" y="19" width="1.04" height="1" fill="#666"/><rect x="8" y="19" width="1.04" height="1" fill="#999"/><rect x="9" y="19" width="1.04" height="1" fill="#ddd"/><rect x="10" y="19" width="1.04" height="1" fill="#888"/><rect x="11" y="19" width="1.04" height="1" fill="#666"/><rect x="12" y="19" width="1.04" height="1" fill="#888"/><rect x="13" y="19" width="1.04" height="1" fill="#666"/><rect x="14" y="19" width="1.04" height="1" fill="#666"/><rect x="15" y="19" width="1.04" height="1" fill="#bbb"/><rect x="16" y="19" width="1.04" height="1" fill="#444"/><rect x="17" y="19" width="1.04" height="1" fill="#555"/><rect x="18" y="19" width="1.04" height="1" fill="#ccc"/><rect x="19" y="19" width="1" height="1" fill="#aaa"/>
</g>
<line class="axis" x1="2640" y1="1082" x2="2640" y2="200" marker-end="url(#axArrow)"/>
<line class="axis" x1="2638" y1="1081" x2="3565" y2="1081" marker-end="url(#axArrow)"/>
<line class="tick" x1="2640" y1="678" x2="2656" y2="678"/>
<line class="tick" x1="3066" y1="1081" x2="3066" y2="1064"/>
<line class="tick" x1="3486" y1="1081" x2="3486" y2="1064"/>
<text class="lbl" x="2578" y="316">20</text>
<text class="lbl" x="2578" y="697">10</text>
<text class="lbl" x="2597" y="1068">0</text>
<text class="lbl" x="2653" y="1141">0</text>
<text class="lbl" x="3068" y="1141">10</text>
<text class="lbl" x="3472" y="1141">20</text>
</g>

<g id="connectors">
<path class="link" d="M2263,642 C2300,540 2390,320 2430,235 C2470,175 2520,165 2600,163 L3200,167 C3330,172 3470,200 3488,276" marker-end="url(#blueOpen)"/>
<path class="link" d="M127,712 C190,950 230,1150 330,1200 C500,1235 1500,1235 1850,1220 C2300,1195 2520,1160 2626,1084" marker-end="url(#blueFill)"/>
</g>
</svg>
